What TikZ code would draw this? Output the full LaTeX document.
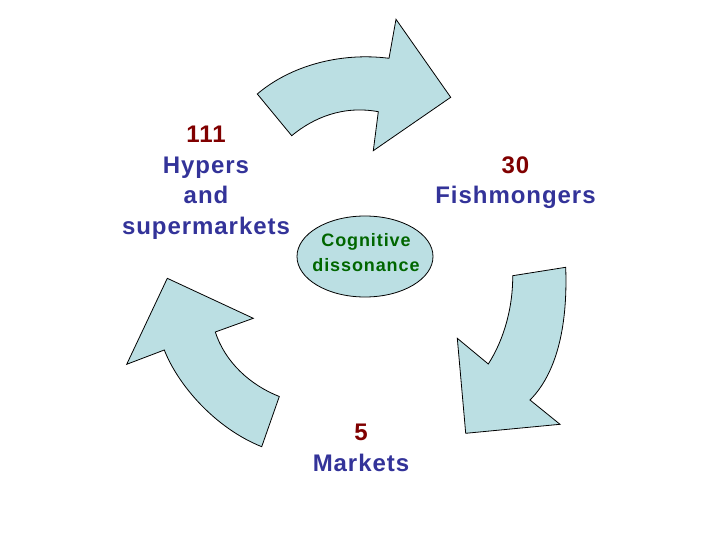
\documentclass[tikz,border=0pt]{standalone}
\usepackage{fontspec}
\setmainfont{Liberation Sans}
\usetikzlibrary{shapes.geometric}

\definecolor{cyclefill}{RGB}{187,223,227}
\definecolor{numred}{RGB}{128,0,0}
\definecolor{shopblue}{RGB}{51,51,153}
\definecolor{mindgreen}{RGB}{0,102,0}

\begin{document}
\begin{tikzpicture}[x=1pt, y=-1pt, draw=black, line width=0.8pt, line join=miter]
    \tikzstyle{cycle arrow}=[fill=cyclefill, draw=black]
    \tikzstyle{shop}=[align=center, inner sep=0pt, anchor=north, text=shopblue,
        font=\fontsize{24}{30.5}\selectfont\bfseries\addfontfeatures{LetterSpace=4}]
    \tikzstyle{mind}=[ellipse, draw=black, fill=cyclefill, inner sep=0pt,
        minimum width=136pt, minimum height=81pt]
    \tikzstyle{mind text}=[inner sep=0pt, text=mindgreen, align=center,
        font=\fontsize{18}{25}\selectfont\bfseries\addfontfeatures{LetterSpace=5}]

    \useasboundingbox (0,0) rectangle (720,540);

    % Top arrow, towards the fishmongers
    \draw[cycle arrow] (257.3,94) -- (291.7,135.7)
        .. controls (313.5,117.7) and (343,105.2) .. (378.3,111.7)
        -- (373.3,150.7) -- (450.7,97.3) -- (396,19.3) -- (389,58.3)
        .. controls (340,52) and (290,66) .. cycle;

    % Right arrow, towards the markets
    \draw[cycle arrow] (512.7,275.7) -- (565.7,267.3)
        .. controls (568,330) and (555,375) .. (530,400)
        -- (560,424.3) -- (465.7,433.3) -- (457.3,338.3) -- (488.3,364)
        .. controls (505,338) and (513,305) .. cycle;

    % Left arrow, towards the hypers
    \draw[cycle arrow] (279.3,396.5) -- (261.7,446.7)
        .. controls (215,428) and (178,385) .. (164.3,350)
        -- (126.7,364.3) -- (167.3,278.3) -- (253.3,318.3) -- (215.3,332)
        .. controls (225,362) and (250,385) .. cycle;

    % Centre
    \node[mind] (dissonance) at (365,256.5) {};
    \node[mind text] (dissonance text) at (366,253) {Cognitive\\dissonance};

    % Shop types
    \node[shop] (hypers) at (206,126) {\textcolor{numred}{111}\\Hypers\\and\\supermarkets};
    \node[shop] (fishmongers) at (515.5,156) {\textcolor{numred}{30}\\Fishmongers};
    \node[shop] (markets) at (361,424) {\textcolor{numred}{5}\\Markets};
\end{tikzpicture}
\end{document}
